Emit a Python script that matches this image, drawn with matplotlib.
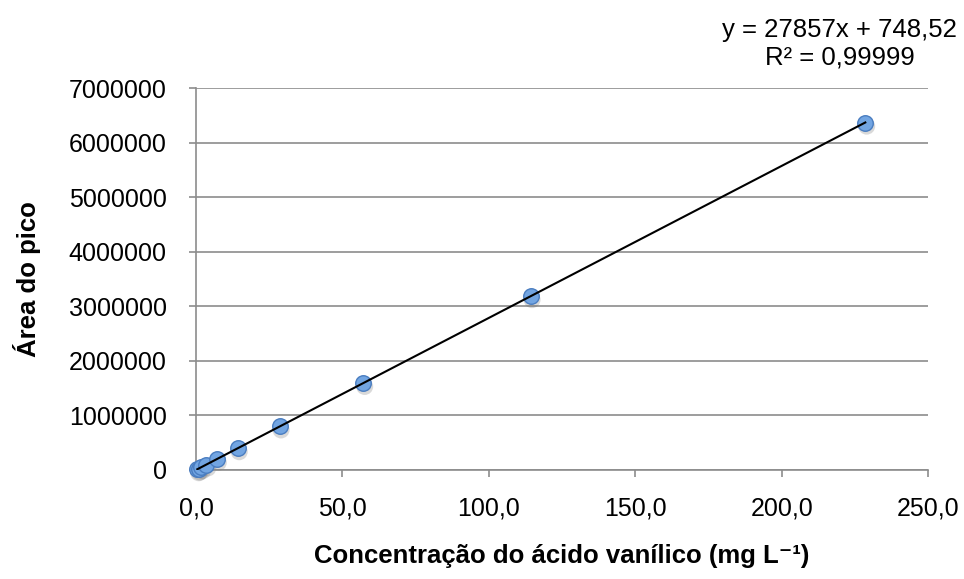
import matplotlib
matplotlib.use("Agg")
import matplotlib.pyplot as plt
import matplotlib.transforms as mtransforms
import numpy as np
from matplotlib.ticker import FuncFormatter

plt.rcParams['font.family'] = ['Liberation Sans', 'DejaVu Sans']

# Calibration data: vanillic acid concentration vs. peak area
concentration = [0.45, 0.89, 1.79, 3.57, 7.14, 14.29, 28.57, 57.14, 114.29, 228.57]
peak_area = [13000, 25500, 50500, 100000, 200000, 398000, 797000, 1594000, 3185000, 6365000]

slope = 27857
intercept = 748.52
r_squared = "0,99999"

x_ticks = [0, 50, 100, 150, 200, 250]
y_ticks = [0, 1000000, 2000000, 3000000, 4000000, 5000000, 6000000, 7000000]

fig = plt.figure(figsize=(9.64, 5.79), dpi=100)
ax = fig.add_axes([0.2033, 0.1883, 0.7594, 0.6597])

ax.set_xlim(0, 250)
ax.set_ylim(0, 7000000)
ax.set_xticks(x_ticks)
ax.set_yticks(y_ticks)
ax.xaxis.set_major_formatter(FuncFormatter(lambda v, p: f"{v:.1f}".replace('.', ',')))
ax.yaxis.set_major_formatter(FuncFormatter(lambda v, p: f"{int(v)}"))

ax.grid(axis='y', color='#8c8c8c', linewidth=1.2)
ax.set_axisbelow(True)
for s in ['top', 'right']:
    ax.spines[s].set_visible(False)
for s in ['left', 'bottom']:
    ax.spines[s].set_color('#8c8c8c')
    ax.spines[s].set_linewidth(1.2)
ax.tick_params(axis='both', colors='#8c8c8c', labelcolor='black', labelsize=18,
               length=5, width=1.2, direction='out')
ax.tick_params(axis='x', pad=14)
ax.tick_params(axis='y', pad=16)

# Marker shadow, offset slightly down-right
shadow = mtransforms.offset_copy(ax.transData, fig=fig, x=1.0, y=-2.5, units='points')
ax.scatter(concentration, peak_area, s=150, color='#6a6a6a', alpha=0.25,
           edgecolors='none', transform=shadow, zorder=2, clip_on=False)
ax.scatter(concentration, peak_area, s=125, color='#72a5e2', edgecolors='#4a7dc0',
           linewidths=1.0, zorder=3, clip_on=False)

# Linear trend line
xs = np.array([min(concentration), max(concentration)])
ax.plot(xs, slope * xs + intercept, color='black', linewidth=1.5, zorder=4)

eq = f"y = {slope}x + {intercept:.2f}".replace('.', ',')
fig.text(0.871, 0.948, eq, ha='center', va='center', fontsize=18.5)
fig.text(0.871, 0.900, f"R² = {r_squared}", ha='center', va='center', fontsize=18.5)

ax.set_xlabel("Concentração do ácido vanílico (mg L\u207b\u00b9)", fontsize=18.5,
              fontweight='bold', labelpad=17)
ax.set_ylabel("Área do pico", fontsize=18.5, fontweight='bold', labelpad=20)

fig.savefig("out.png", dpi=100)
